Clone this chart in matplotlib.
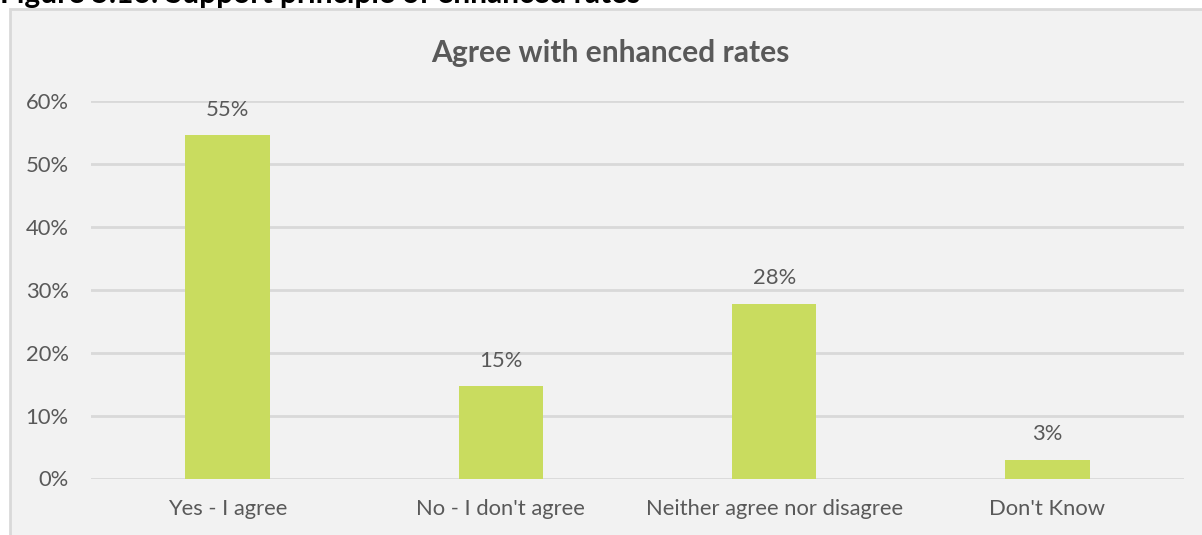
import matplotlib.pyplot as plt
from matplotlib.patches import Rectangle
from matplotlib.ticker import FuncFormatter
import numpy as np

plt.rcParams['font.family'] = ['Lato', 'DejaVu Sans']

categories = ['Yes - I agree', 'No - I don\'t agree', 'Neither agree nor disagree', 'Don\'t Know']
shares = [0.546, 0.147, 0.278, 0.030]
y_ticks = [0.0, 0.1, 0.2, 0.3, 0.4, 0.5, 0.6]

BAR = '#C9DC5F'
TXT = '#595959'
GRID = '#D9D9D9'
BG = '#F2F2F2'

fig = plt.figure(figsize=(12.02, 5.35), dpi=100)
fig.patch.set_facecolor('white')

# chart frame (runs off the right and bottom edges)
W, H = 1202, 535
frame = Rectangle((10 / W, -0.05), 1.1, (535 - 9) / H + 0.05, transform=fig.transFigure,
                  facecolor=BG, edgecolor=GRID, linewidth=2, zorder=-5)
fig.patches.append(frame)

# caption sitting above the frame, mostly cropped
fig.text(0, 1 - 3 / H, 'Figure 5.16: Support principle of enhanced rates',
         fontsize=21.5, fontweight='bold', color='black', va='baseline', ha='left')

ax = fig.add_axes([91 / W, (H - 478.5) / H, (1184 - 91) / W, (478.5 - 101) / H])
ax.set_zorder(1)
ax.set_facecolor('none')
x = np.arange(len(categories))
ax.bar(x, shares, width=0.31, color=BAR, zorder=3)
ax.set_xlim(-0.5, len(categories) - 0.5)
ax.set_ylim(0, 0.6)
ax.set_yticks(y_ticks)
ax.yaxis.set_major_formatter(FuncFormatter(lambda v, p: f'{v * 100:.0f}%'))
ax.yaxis.grid(True, color=GRID, linewidth=2, zorder=0)
ax.set_xticks(x)
ax.set_xticklabels(categories)
ax.tick_params(axis='both', length=0, labelsize=15.8, colors=TXT)
ax.tick_params(axis='y', pad=16)
ax.tick_params(axis='x', pad=15)
for s in ax.spines.values():
    s.set_visible(False)

for xi, v in zip(x, shares):
    ax.annotate(f'{v * 100:.0f}%', xy=(xi, v), xytext=(0, 11), textcoords='offset points',
                ha='center', va='bottom', fontsize=15.8, color=TXT)

fig.text(0.5075, 1 - 53 / H, 'Agree with enhanced rates', ha='center', va='center',
         fontsize=21.6, fontweight='bold', color=TXT)

fig.savefig('out.png', dpi=100, facecolor='white')
